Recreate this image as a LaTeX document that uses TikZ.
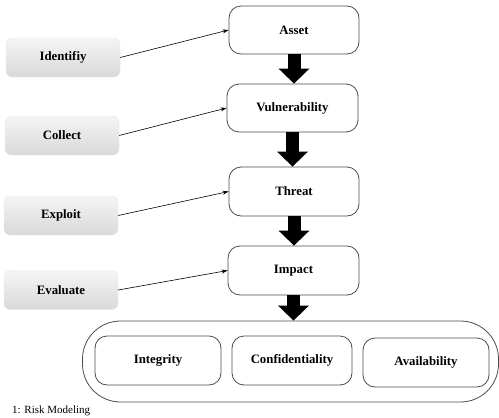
\documentclass[tikz,border=0pt]{standalone}
\usepackage{fontspec}
\setmainfont{Liberation Serif}
\usetikzlibrary{arrows.meta}
\begin{document}
\begin{tikzpicture}[x=1pt,y=-1pt,
  mainbox/.style={draw=black!70,line width=0.8pt,rounded corners=12pt,fill=white,
    font=\fontsize{12.8}{14}\selectfont\bfseries,inner sep=0pt},
  leftbox/.style={draw=black!8,line width=0.4pt,rounded corners=6pt,top color=black!4,bottom color=black!15,
    minimum width=114pt,minimum height=39pt,font=\fontsize{12.8}{14}\selectfont\bfseries,inner sep=0pt},
  bigarrow/.style={line width=13pt,-{Triangle[width=30pt,length=15pt]}},
  thinarrow/.style={line width=0.6pt,-{Stealth[length=6pt,width=4pt]}}]
\clip (0,0) rectangle (499,418);
\fill[white] (0,0) rectangle (499,418);
% main chain
\node[mainbox,minimum width=130pt,minimum height=48pt] (asset) at (294,30) {Asset};
\node[mainbox,minimum width=131pt,minimum height=48pt] (vul) at (292.5,108) {Vulnerability};
\node[mainbox,minimum width=130pt,minimum height=49pt] (threat) at (294,191.5) {Threat};
\node[mainbox,minimum width=131pt,minimum height=49pt] (impact) at (293.5,270.5) {Impact};
% container
\node[draw=black!70,line width=0.8pt,rounded corners=38pt,minimum width=416pt,minimum height=81pt,inner sep=0pt] (cia) at (290.5,361.5) {};
\node[mainbox,minimum width=126pt,minimum height=49pt] (integ) at (158,360.5) {Integrity};
\node[mainbox,minimum width=120pt,minimum height=49pt] (conf) at (292,360.5) {Confidentiality};
\node[mainbox,minimum width=126pt,minimum height=49pt] (avail) at (426,362.5) {Availability};
% left boxes
\node[leftbox] (ident) at (63,57.5) {Identifiy};
\node[leftbox] (coll) at (62,135.5) {Collect};
\node[leftbox] (expl) at (61,215.5) {Exploit};
\node[leftbox] (eval) at (61,290) {Evaluate};
% big arrows
\draw[bigarrow] (asset.south) -- (asset.south |- vul.north);
\draw[bigarrow] (vul.south) -- (vul.south |- threat.north);
\draw[bigarrow] (threat.south) -- (threat.south |- impact.north);
\draw[bigarrow] (impact.south) -- (impact.south |- cia.north);
% thin arrows
\draw[thinarrow] (ident.east) -- (asset.west);
\draw[thinarrow] (coll.east) -- (vul.west);
\draw[thinarrow] (expl.east) -- (threat.west);
\draw[thinarrow] (eval.east) -- (impact.west);
% caption
\node[anchor=north west,inner sep=0pt,font=\fontsize{11}{13}\selectfont] (cap) at (12,406) {1: Risk Modeling};
\end{tikzpicture}
\end{document}
